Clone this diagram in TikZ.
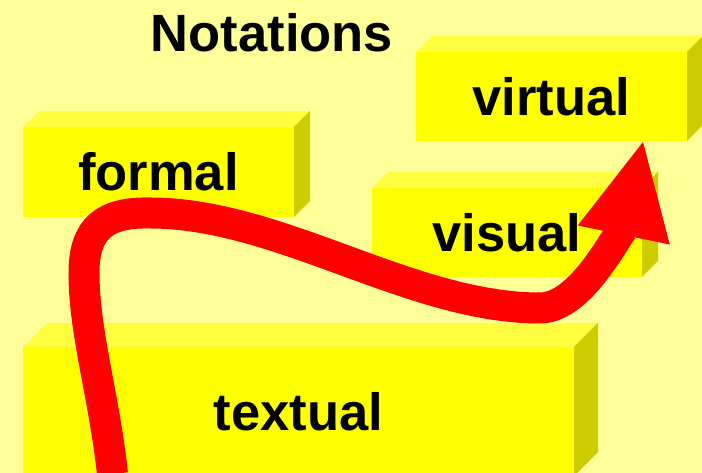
\documentclass[tikz,border=0pt]{standalone}
\usepackage{fontspec}
\setmainfont{Liberation Sans}
\usetikzlibrary{arrows.meta}
\definecolor{fond}{RGB}{255,255,153}
\definecolor{face}{RGB}{255,255,0}
\definecolor{dessus}{RGB}{255,255,64}
\definecolor{cote}{RGB}{204,204,0}
\definecolor{rouge}{RGB}{255,0,0}

% pave : nom, x1, y1, x2, y2, profondeur, texte
\newcommand{\pave}[7]{%
    \fill [face] (#2,#3) rectangle (#4,#5) ;
    \fill [dessus] (#2,#5) -- ++(#6,#6) -- (#4+#6,#5+#6) -- (#4,#5) -- cycle ;
    \fill [cote] (#4,#3) -- (#4,#5) -- ++(#6,#6) -- (#4+#6,#3+#6) -- cycle ;
    \node [etiquette] (#1) at ({(#2+#4)/2},{(#3+#5)/2}) {#7} ;}

\begin{document}
\begin{tikzpicture}  % ------ Notations  ---------------
      [x=1pt,y=1pt,
       etiquette/.style={font=\bfseries\fontsize{52.5}{60}\selectfont,inner sep=0pt},
       fleche/.style={rouge,line width=31pt,
         -{Triangle[length=95pt,width=94pt,line width=0pt]}}]
    \fill [fond] (0,0) rectangle (702,473) ;
    \useasboundingbox (0,0) rectangle (702,473) ;

    \pave{formal}{23}{256}{294}{346}{16}{formal}
    \pave{virtual}{416}{332}{687}{421}{16}{virtual}
    \pave{visual}{372}{196}{642}{285}{16}{visual}
    \pave{textual}{23}{-3}{574}{126}{24}{textual}

    \node [etiquette,anchor=base] (titre) at (272,421) {Notations} ;

    % ------ la fleche ---------------
    \coordinate (D) at (112.5,-1);
    \coordinate (G) at (84,200);
    \coordinate (H) at (150,260);
    \coordinate (B) at (540,165);
    \coordinate (P) at (643,331);
    \draw [fleche] (D) .. controls (104,78) and (84,140) .. (G)
        .. controls (84,245) and (105,261) .. (H)
        .. controls (280,260) and (410,165) .. (B)
        .. controls (590,165) and (631,273) .. (P) ;
\end{tikzpicture}
\end{document}
